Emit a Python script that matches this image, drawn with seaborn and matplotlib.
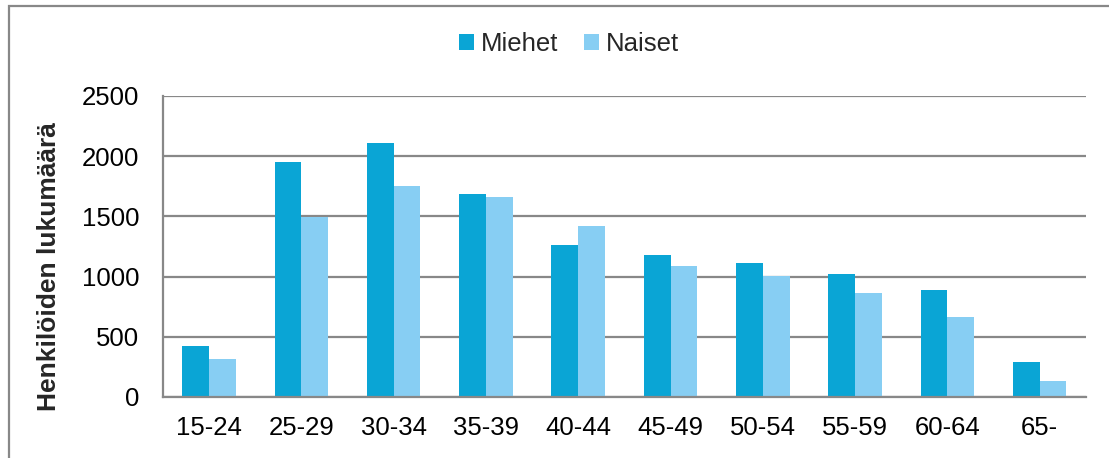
import matplotlib
matplotlib.use("Agg")
import matplotlib.pyplot as plt
from matplotlib.patches import Rectangle, Patch
import seaborn as sns
import pandas as pd

categories = ["15-24", "25-29", "30-34", "35-39", "40-44", "45-49", "50-54", "55-59", "60-64", "65-"]
miehet = [424, 1952, 2107, 1686, 1265, 1177, 1110, 1022, 889, 291]
naiset = [313, 1492, 1753, 1664, 1420, 1088, 1003, 867, 667, 136]
series_names = ["Miehet", "Naiset"]
y_ticks = [0, 500, 1000, 1500, 2000, 2500]
y_label = "Henkilöiden lukumäärä"

colors = {"Miehet": "#0AA5D5", "Naiset": "#87CEF3"}
grid_color = "#888888"

df = pd.DataFrame({
    "Ikä": categories * 2,
    "Sarja": [series_names[0]] * len(categories) + [series_names[1]] * len(categories),
    "Arvo": miehet + naiset,
})

sns.set_theme(style="white")
plt.rcParams["font.family"] = ["Liberation Sans", "DejaVu Sans"]

fig = plt.figure(figsize=(11.09, 4.58), dpi=100)
ax = fig.add_axes([0.147, 0.1332, 0.832, 0.6572])

sns.barplot(data=df, x="Ikä", y="Arvo", hue="Sarja", order=categories,
            hue_order=series_names, palette=colors, width=0.58, gap=0,
            linewidth=0, saturation=1, ax=ax, legend=False)

ax.set_xlim(-0.5, 9.5)
ax.set_ylim(0, 2500)
ax.set_yticks(y_ticks)
ax.set_yticklabels([str(t) for t in y_ticks])
ax.yaxis.grid(True, color=grid_color, linewidth=1.6)
ax.set_axisbelow(True)
for s in ["top", "right"]:
    ax.spines[s].set_visible(False)
for s in ["left", "bottom"]:
    ax.spines[s].set_color(grid_color)
    ax.spines[s].set_linewidth(1.6)
ax.tick_params(axis="both", length=0, labelsize=18.5, colors="black")
ax.tick_params(axis="y", pad=17)
ax.tick_params(axis="x", pad=14)
ax.set_xlabel("")
ax.set_ylabel(y_label, fontsize=19, fontweight="bold")
ax.yaxis.set_label_coords(-0.111, 0.433)

handles = [Patch(facecolor=colors[n], edgecolor="none") for n in series_names]
fig.legend(handles, series_names, loc="center", bbox_to_anchor=(0.513, 0.904),
           ncol=2, frameon=False, fontsize=18.5, handlelength=0.6, handleheight=0.6,
           handletextpad=0.25, columnspacing=1.0)

frame = Rectangle((9 / 1109, -0.1), 1.2, 1 - 6 / 458 + 0.1, transform=fig.transFigure,
                  fill=False, edgecolor=grid_color, linewidth=1.6, zorder=10)
fig.patches.append(frame)

fig.savefig("out.png", dpi=100)
